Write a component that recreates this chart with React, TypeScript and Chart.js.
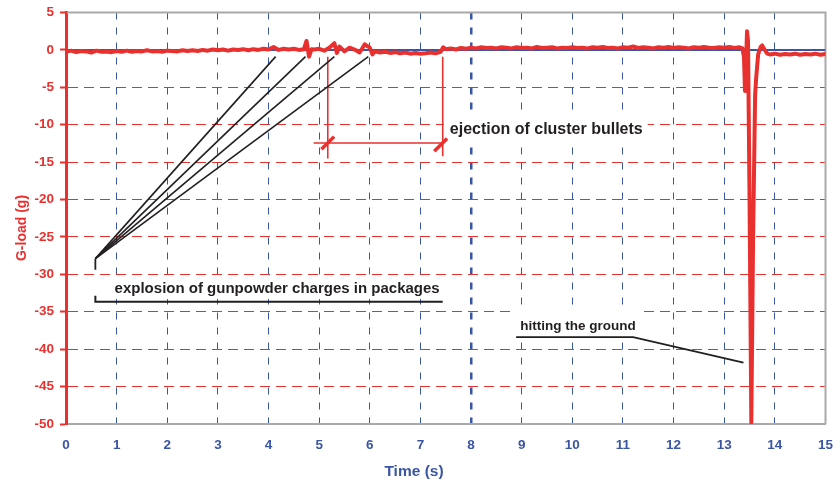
import { useEffect, useRef } from 'react';
import { Chart, registerables } from 'chart.js';

Chart.register(...registerables);

const FONT = '"Liberation Sans", Arial, Helvetica, sans-serif';
const RED = '#e8302f';
const BLUE = '#3a55a6';
const INK = '#231f20';
const FRAME = '#a9a9a9';

// Recorded acceleration (time in s, G-load in g)
const timeS = [
  0.0, 0.1, 0.2, 0.3, 0.4, 0.5, 0.6, 0.7, 0.8, 0.9,
  1.0, 1.1, 1.2, 1.3, 1.4, 1.5, 1.6, 1.7, 1.8, 1.9,
  2.0, 2.1, 2.2, 2.3, 2.4, 2.5, 2.6, 2.7, 2.8, 2.9,
  3.0, 3.1, 3.2, 3.3, 3.4, 3.5, 3.6, 3.7, 3.8, 3.9,
  4.0, 4.1, 4.2, 4.3, 4.4, 4.5, 4.6, 4.7, 4.75, 4.8, 4.85, 4.9,
  5.0, 5.1, 5.2, 5.3, 5.35, 5.4, 5.5, 5.6, 5.7, 5.8, 5.9,
  6.0, 6.05, 6.1, 6.2, 6.3, 6.4, 6.5, 6.6, 6.7, 6.8, 6.9,
  7.0, 7.1, 7.2, 7.3, 7.4, 7.45, 7.5, 7.6, 7.7, 7.8, 7.9,
  8.0, 8.1, 8.2, 8.3, 8.4, 8.5, 8.6, 8.7, 8.8, 8.9,
  9.0, 9.1, 9.2, 9.3, 9.4, 9.5, 9.6, 9.7, 9.8, 9.9,
  10.0, 10.1, 10.2, 10.3, 10.4, 10.5, 10.6, 10.7, 10.8, 10.9,
  11.0, 11.1, 11.2, 11.3, 11.4, 11.5, 11.6, 11.7, 11.8, 11.9,
  12.0, 12.1, 12.2, 12.3, 12.4, 12.5, 12.6, 12.7, 12.8, 12.9,
  13.0, 13.1, 13.2, 13.3, 13.36, 13.39, 13.41, 13.43, 13.45, 13.47, 13.5,
  13.535, 13.57, 13.61, 13.63, 13.67, 13.72, 13.75, 13.79, 13.85, 13.9,
  14.0, 14.1, 14.2, 14.3, 14.4, 14.5, 14.6, 14.7, 14.8, 14.9,
  15.0,
];

const gLoad = [
  -0.25, -0.1, -0.3, -0.15, -0.2, -0.35, -0.1, -0.25, -0.2, -0.3,
  -0.15, -0.25, -0.1, -0.25, -0.15, -0.2, -0.05, -0.2, -0.15, -0.25,
  -0.1, -0.15, -0.2, -0.05, -0.15, -0.05, -0.15, 0.0, -0.1, 0.05,
  -0.05, 0.05, -0.1, 0.05, 0.0, 0.1, -0.05, 0.1, 0.0, 0.15,
  0.05, 0.4, 0.0, 0.15, 0.05, 0.15, 0.0, 0.1, 1.2, -0.9, 0.1, 0.05,
  0.15, -0.1, 0.3, 0.9, -0.4, 0.45, -0.2, 0.3, 0.05, -0.35, 0.75,
  0.3, -0.6, -0.2, -0.35, -0.25, -0.4, -0.3, -0.45, -0.35, -0.5, -0.4,
  -0.5, -0.45, -0.35, -0.45, -0.25, 0.35, 0.1, 0.2, 0.05, 0.25, 0.15,
  0.3, 0.2, 0.35, 0.25, 0.3, 0.2, 0.35, 0.3, 0.2, 0.35,
  0.25, 0.3, 0.2, 0.4, 0.25, 0.3, 0.35, 0.2, 0.3, 0.25,
  0.35, 0.25, 0.3, 0.2, 0.35, 0.3, 0.4, 0.25, 0.3, 0.2,
  0.35, 0.3, 0.45, 0.25, 0.35, 0.3, 0.2, 0.35, 0.3, 0.4,
  0.25, 0.35, 0.3, 0.2, 0.35, 0.3, 0.4, 0.3, 0.25, 0.35,
  0.3, 0.4, 0.25, 0.35, 0.2, -1.0, -5.5, -2.0, 2.5, 1.2, -20,
  -49.8, -25, -6, -3.8, -0.6, 0.4, 0.6, 0.1, -0.5, -0.6,
  -0.5, -0.65, -0.55, -0.6, -0.5, -0.65, -0.55, -0.6, -0.5, -0.65,
  -0.55,
];

// Reference level at 0 g
const zeroLine = [
  { x: 0, y: 0 },
  { x: 15, y: 0 },
];

// Leader lines to the gunpowder-charge explosions
const fanOrigin = { x: 0.58, y: -27.9 };
const fanTips = [
  { x: 4.14, y: -0.9 },
  { x: 4.73, y: -0.9 },
  { x: 5.3, y: -0.9 },
  { x: 5.97, y: -0.9 },
];
const fanStem = [
  { x: 0.58, y: -27.9 },
  { x: 0.58, y: -29.4 },
];
const explosionBracket = [
  { x: 0.58, y: -32.85 },
  { x: 0.58, y: -33.65 },
  { x: 7.44, y: -33.65 },
];

// Cluster-bullet ejection interval
const ejectStart = [
  { x: 5.17, y: -0.9 },
  { x: 5.17, y: -14.5 },
];
const ejectEnd = [
  { x: 7.44, y: -0.9 },
  { x: 7.44, y: -14.2 },
];
const ejectSpan = [
  { x: 4.89, y: -12.44 },
  { x: 7.44, y: -12.44 },
];
const ejectMarks = [
  { x: 5.17, y: -12.44 },
  { x: 7.4, y: -12.7 },
];

// Leader to the impact
const impactLeader = [
  { x: 8.89, y: -38.4 },
  { x: 11.2, y: -38.4 },
  { x: 13.38, y: -41.8 },
];

// Callout labels; each sits on a white box (rise/drop: box extent above/below the baseline, px)
const notes = [
  { text: 'explosion of gunpowder charges in packages', x: 0.96, y: -32.5, size: 15, rise: 17, drop: 6 },
  { text: 'ejection of cluster bullets', x: 7.58, y: -11.3, size: 16, rise: 20, drop: 7 },
  { text: 'hitting the ground', x: 8.97, y: -37.4, size: 13.5, rise: 20, drop: 6 },
];

const xTitle = 'Time (s)';
const yTitle = 'G-load (g)';

const line = (data: { x: number; y: number }[], color: string, width: number, order: number) => ({
  type: 'line' as const,
  data,
  borderColor: color,
  backgroundColor: color,
  borderWidth: width,
  pointRadius: 0,
  fill: false,
  tension: 0,
  order,
});

const decorPlugin = {
  id: 'decor',
  beforeDatasetsDraw(chart: any) {
    const { ctx, chartArea: a, scales } = chart;
    ctx.save();
    ctx.strokeStyle = FRAME;
    ctx.lineWidth = 2;
    ctx.beginPath();
    ctx.moveTo(a.left + 1, a.top);
    ctx.lineTo(a.right, a.top);
    ctx.lineTo(a.right, a.bottom);
    ctx.stroke();

    // white label boxes hide the grid behind the callouts
    ctx.fillStyle = '#ffffff';
    for (const n of notes) {
      ctx.font = `bold ${n.size}px ${FONT}`;
      const w = ctx.measureText(n.text).width;
      const px = scales.x.getPixelForValue(n.x);
      const py = scales.y.getPixelForValue(n.y);
      ctx.fillRect(px - 6, py - n.rise, w + 11, n.rise + n.drop);
    }
    ctx.restore();
  },
  afterDatasetsDraw(chart: any) {
    const { ctx, chartArea: a, scales } = chart;
    ctx.save();
    ctx.fillStyle = INK;
    ctx.textAlign = 'left';
    ctx.textBaseline = 'alphabetic';
    for (const n of notes) {
      ctx.font = `bold ${n.size}px ${FONT}`;
      ctx.fillText(n.text, scales.x.getPixelForValue(n.x), scales.y.getPixelForValue(n.y));
    }
    ctx.restore();

    ctx.save();
    ctx.fillStyle = BLUE;
    ctx.font = `bold 15.5px ${FONT}`;
    ctx.textAlign = 'center';
    ctx.textBaseline = 'alphabetic';
    ctx.fillText(xTitle, a.left + 348, 476);
    ctx.restore();

    ctx.save();
    ctx.fillStyle = RED;
    ctx.font = `bold 14px ${FONT}`;
    ctx.textAlign = 'center';
    ctx.textBaseline = 'alphabetic';
    ctx.translate(26, 228);
    ctx.rotate(-Math.PI / 2);
    ctx.fillText(yTitle, 0, 0);
    ctx.restore();
  },
};

export default function App() {
  const ref = useRef<HTMLCanvasElement | null>(null);

  useEffect(() => {
    if (!ref.current) return;
    Chart.defaults.font.family = FONT;

    const signal = timeS.map((t, i) => ({ x: t, y: gLoad[i] }));

    const chart = new Chart(ref.current, {
      type: 'line',
      data: {
        datasets: [
          {
            ...line(signal, RED, 4, 0),
            borderJoinStyle: 'round',
            borderCapStyle: 'round',
          } as any,
          line(zeroLine, BLUE, 2, 5),
          ...fanTips.map((tip) => line([fanOrigin, tip], INK, 1.6, 2)),
          line(fanStem, INK, 1.8, 2),
          line(explosionBracket, INK, 2, 2),
          line(ejectStart, RED, 1.6, 2),
          line(ejectEnd, RED, 1.6, 2),
          line(ejectSpan, RED, 1.6, 2),
          {
            type: 'line',
            data: ejectMarks,
            showLine: false,
            pointStyle: 'line',
            pointRotation: -45,
            pointRadius: 9,
            pointBorderWidth: 3.5,
            pointBorderColor: RED,
            pointBackgroundColor: RED,
            borderColor: RED,
            order: 1,
          } as any,
          line(impactLeader, INK, 1.8, 2),
        ],
      },
      options: {
        responsive: false,
        animation: false,
        events: [],
        layout: { padding: { top: 11, right: 8, left: 0, bottom: 0 } },
        plugins: {
          legend: { display: false },
          tooltip: { enabled: false },
          title: { display: false },
        },
        scales: {
          x: {
            type: 'linear',
            min: 0,
            max: 15,
            afterFit: (s: any) => {
              s.height = 62;
              s.paddingLeft = 0;
              s.paddingRight = 0;
            },
            ticks: {
              stepSize: 1,
              color: BLUE,
              padding: 13,
              maxRotation: 0,
              autoSkip: false,
              font: { size: 13.5, weight: 'bold' },
            },
            grid: {
              color: BLUE,
              lineWidth: (c: any) => (c.tick && c.tick.value === 8 ? 2.5 : 1),
              drawTicks: false,
              tickLength: 0,
            },
            border: { display: true, color: FRAME, width: 2, dash: [7, 8] },
          },
          y: {
            type: 'linear',
            min: -50,
            max: 5,
            afterFit: (s: any) => {
              s.width = 66;
              s.paddingTop = 0;
              s.paddingBottom = 0;
            },
            ticks: {
              stepSize: 5,
              color: RED,
              padding: 6,
              font: { size: 13.5, weight: 'bold' },
            },
            grid: {
              color: RED,
              lineWidth: 1,
              drawTicks: true,
              tickLength: 6,
              tickColor: RED,
              tickWidth: 2,
            },
            border: { display: true, color: RED, width: 3, dash: [10, 6] },
          },
        },
      } as any,
      plugins: [decorPlugin],
    });

    return () => chart.destroy();
  }, []);

  return (
    <div style={{ position: 'absolute', left: 0, top: 0, width: 838, height: 486, background: '#fff' }}>
      <canvas ref={ref} width={838} height={486} style={{ display: 'block' }} />
    </div>
  );
}
